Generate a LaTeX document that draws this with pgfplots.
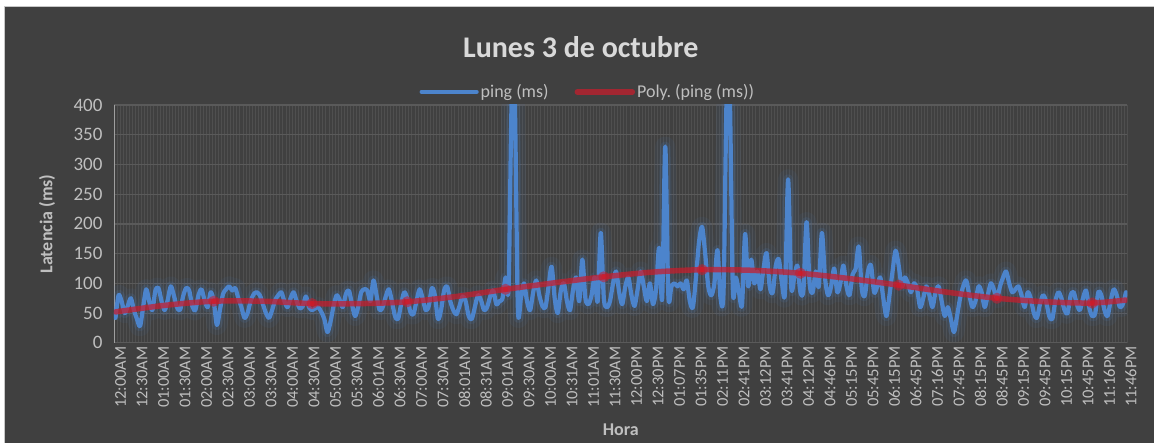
\documentclass[border=0pt]{standalone}
\usepackage{fontspec}
\setmainfont{Carlito}
\usepackage{pgfplots}
\usepackage{pgfplotstable}
\pgfplotsset{compat=1.18}
\definecolor{bg}{HTML}{404040}
\definecolor{gridc}{HTML}{5A5A5A}
\definecolor{mgrid}{HTML}{4F4F4F}
\definecolor{txt}{HTML}{BFBFBF}
\definecolor{ttl}{HTML}{D9D9D9}
\definecolor{pingblue}{RGB}{76,132,204}
\definecolor{polyred}{RGB}{200,28,44}
\definecolor{dotred}{RGB}{235,20,30}

% ping (ms), one row per sample
\pgfplotstableread[row sep=\\]{
idx ping\\
0 42\\ 1 80\\ 2 70\\ 3 50\\ 4 62\\ 5 75\\ 6 55\\
7 40\\ 8 28\\ 9 60\\ 10 90\\ 11 70\\ 12 55\\ 13 88\\
14 92\\ 15 70\\ 16 55\\ 17 72\\ 18 95\\ 19 80\\ 20 60\\
21 55\\ 22 78\\ 23 92\\ 24 88\\ 25 62\\ 26 55\\ 27 80\\
28 90\\ 29 72\\ 30 60\\ 31 85\\ 32 70\\ 33 30\\ 34 55\\
35 82\\ 36 90\\ 37 95\\ 38 88\\ 39 92\\ 40 75\\ 41 60\\
42 42\\ 43 50\\ 44 70\\ 45 82\\ 46 85\\ 47 80\\ 48 65\\
49 50\\ 50 42\\ 51 55\\ 52 72\\ 53 80\\ 54 85\\ 55 70\\
56 60\\ 57 75\\ 58 85\\ 59 70\\ 60 58\\ 61 62\\ 62 78\\
63 60\\ 64 55\\ 65 58\\ 66 60\\ 67 52\\ 68 40\\ 69 18\\
70 35\\ 71 62\\ 72 80\\ 73 72\\ 74 60\\ 75 82\\ 76 88\\
77 65\\ 78 45\\ 79 60\\ 80 85\\ 81 90\\ 82 88\\ 83 70\\
84 105\\ 85 80\\ 86 55\\ 87 60\\ 88 78\\ 89 90\\ 90 70\\
91 45\\ 92 40\\ 93 65\\ 94 85\\ 95 75\\ 96 52\\ 97 48\\
98 70\\ 99 90\\ 100 75\\ 101 55\\ 102 62\\ 103 92\\ 104 80\\
105 40\\ 106 55\\ 107 88\\ 108 95\\ 109 70\\ 110 55\\ 111 48\\
112 62\\ 113 78\\ 114 70\\ 115 45\\ 116 40\\ 117 60\\ 118 80\\
119 72\\ 120 55\\ 121 60\\ 122 78\\ 123 88\\ 124 65\\ 125 70\\
126 75\\ 127 110\\ 128 95\\ 129 410\\ 130 410\\ 131 60\\ 132 75\\
133 100\\ 134 70\\ 135 55\\ 136 85\\ 137 105\\ 138 80\\ 139 62\\
140 60\\ 141 95\\ 142 128\\ 143 75\\ 144 50\\ 145 88\\ 146 100\\
147 70\\ 148 55\\ 149 90\\ 150 110\\ 151 70\\ 152 140\\ 153 75\\
154 65\\ 155 80\\ 156 110\\ 157 70\\ 158 185\\ 159 75\\ 160 60\\
161 70\\ 162 100\\ 163 120\\ 164 85\\ 165 65\\ 166 95\\ 167 110\\
168 80\\ 169 62\\ 170 90\\ 171 120\\ 172 95\\ 173 70\\ 174 100\\
175 65\\ 176 90\\ 177 160\\ 178 75\\ 179 330\\ 180 80\\ 181 95\\
182 100\\ 183 95\\ 184 100\\ 185 90\\ 186 105\\ 187 70\\ 188 60\\
189 110\\ 190 170\\ 191 195\\ 192 150\\ 193 95\\ 194 80\\ 195 100\\
196 156\\ 197 75\\ 198 90\\ 199 420\\ 200 420\\ 201 90\\ 202 110\\
203 85\\ 204 64\\ 205 183\\ 206 95\\ 207 140\\ 208 100\\ 209 120\\
210 90\\ 211 125\\ 212 151\\ 213 95\\ 214 85\\ 215 130\\ 216 140\\
217 100\\ 218 85\\ 219 275\\ 220 95\\ 221 110\\ 222 130\\ 223 85\\
224 90\\ 225 203\\ 226 100\\ 227 85\\ 228 120\\ 229 95\\ 230 185\\
231 110\\ 232 80\\ 233 95\\ 234 125\\ 235 85\\ 236 100\\ 237 130\\
238 95\\ 239 80\\ 240 115\\ 241 125\\ 242 162\\ 243 90\\ 244 80\\
245 120\\ 246 130\\ 247 85\\ 248 95\\ 249 110\\ 250 75\\ 251 45\\
252 80\\ 253 120\\ 254 155\\ 255 130\\ 256 95\\ 257 110\\ 258 100\\
259 85\\ 260 100\\ 261 90\\ 262 60\\ 263 75\\ 264 95\\ 265 80\\
266 60\\ 267 85\\ 268 95\\ 269 70\\ 270 45\\ 271 60\\ 272 40\\
273 18\\ 274 45\\ 275 75\\ 276 95\\ 277 105\\ 278 80\\ 279 60\\
280 70\\ 281 95\\ 282 85\\ 283 60\\ 284 80\\ 285 100\\ 286 90\\
287 75\\ 288 95\\ 289 110\\ 290 120\\ 291 100\\ 292 85\\ 293 90\\
294 95\\ 295 80\\ 296 60\\ 297 85\\ 298 75\\ 299 50\\ 300 42\\
301 65\\ 302 80\\ 303 70\\ 304 45\\ 305 40\\ 306 70\\ 307 85\\
308 75\\ 309 55\\ 310 50\\ 311 80\\ 312 85\\ 313 65\\ 314 55\\
315 75\\ 316 88\\ 317 60\\ 318 45\\ 319 50\\ 320 85\\ 321 80\\
322 55\\ 323 45\\ 324 70\\ 325 90\\ 326 80\\ 327 60\\ 328 65\\
329 85\\
}\ping

% polynomial trend line
\pgfplotstableread[row sep=\\]{
idx poly\\
0 52\\ 16 63\\ 32 70\\ 48 70\\ 64 66\\ 80 66\\ 95 69\\ 111 78\\
127 90\\ 143 101\\ 159 111\\ 175 119\\ 191 123\\ 207 122\\ 223 117\\
239 108\\ 255 97\\ 271 85\\ 287 75\\ 303 69\\ 318 67\\ 329 72\\
}\poly

\begin{document}
\begin{tikzpicture}
\fill[white] (0pt,0pt) rectangle (1154pt,443pt);
\fill[bg] (4pt,0pt) rectangle (1154pt,437pt);
\draw[black!22, line width=1pt] (4.5pt,0pt) -- (4.5pt,436.5pt) -- (1154pt,436.5pt);
\node[font=\bfseries\fontsize{30}{36}\selectfont, text=ttl] at (581pt,396pt) {Lunes 3 de octubre};
\begin{axis}[
  at={(114pt,100pt)}, anchor=south west,
  scale only axis, width=1014pt, height=238pt,
  xmin=-0.5, xmax=329.5, ymin=0, ymax=400,
  ytick={0,50,...,400},
  xtick={0,7,...,329},
  xticklabels={12:00AM,12:30AM,01:00AM,01:30AM,02:00AM,02:30AM,03:00AM,03:30AM,
    04:00AM,04:30AM,05:00AM,05:30AM,06:01AM,06:30AM,07:00AM,07:30AM,
    08:01AM,08:31AM,09:01AM,09:30AM,10:00AM,10:31AM,11:01AM,11:30AM,
    12:00PM,12:30PM,01:07PM,01:35PM,02:11PM,02:41PM,03:12PM,03:41PM,
    04:12PM,04:46PM,05:15PM,05:45PM,06:15PM,06:45PM,07:16PM,07:45PM,
    08:15PM,08:45PM,09:15PM,09:45PM,10:15PM,10:45PM,11:16PM,11:46PM},
  minor xtick={-0.5,0.5,...,329.5},
  axis x line=bottom, axis y line=left, axis line style={-},
  x axis line style={draw=gridc, line width=1.2pt},
  y axis line style={draw=gray!75, line width=0.8pt},
  ymajorgrids, xminorgrids,
  major grid style={draw=gridc, line width=1.2pt},
  minor grid style={draw=mgrid, line width=0.8pt},
  major tick length=0pt, minor tick length=0pt,
  tick style={draw=none},
  /pgf/number format/assume math mode=true,
  yticklabel style={font=\fontsize{19}{22}\selectfont, text=txt, xshift=-8pt},
  xticklabel style={rotate=90, anchor=east, font=\fontsize{16.5}{19}\selectfont, text=txt, yshift=-5pt},
  xlabel={Hora},
  xlabel style={at={(axis description cs:0.5,-0.366)}, anchor=center, font=\bfseries\fontsize{18}{22}\selectfont, text=txt},
  ylabel={Latencia (ms)},
  ylabel style={at={(axis description cs:-0.066,0.5)}, anchor=center, font=\bfseries\fontsize{18}{22}\selectfont, text=txt},
  legend style={at={(axis description cs:0.4675,1.055)}, anchor=center, draw=none, fill=none,
    text=txt, font=\fontsize{18}{22}\selectfont, /tikz/every even column/.append style={column sep=24pt}},
  legend columns=2,
  legend image code/.code={\draw[#1] (0pt,0pt) -- (55pt,0pt);},
]
\addplot[pingblue, line width=20pt, opacity=0.07, smooth, line join=round, forget plot] table[x=idx,y=ping]{\ping};
\addplot[pingblue, line width=10pt, opacity=0.13, smooth, line join=round, forget plot] table[x=idx,y=ping]{\ping};
\addplot[pingblue, line width=4.2pt, smooth, line join=round, line cap=round] table[x=idx,y=ping]{\ping};
\addplot[polyred, line width=5.5pt, opacity=0.72, smooth, line cap=round,
  mark=*, mark indices={3,5,...,21}, mark options={fill=dotred, draw=none, opacity=0.55, mark size=2.6pt}] table[x=idx,y=poly]{\poly};
\legend{ping (ms), Poly.\ (ping (ms))}
\end{axis}
\end{tikzpicture}
\end{document}
